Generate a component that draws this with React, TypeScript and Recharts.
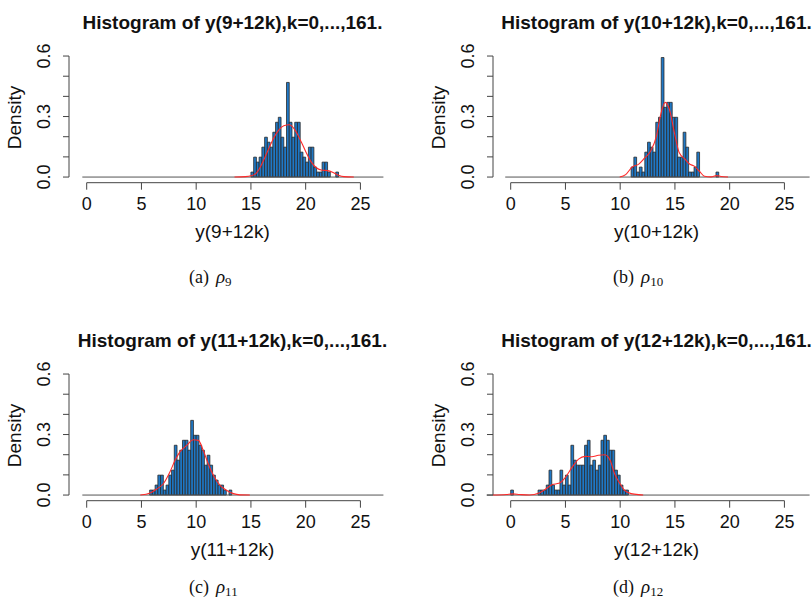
import React from 'react';
import { ComposedChart, Line, XAxis, YAxis, ReferenceArea, ReferenceLine } from 'recharts';

// 162 observations per panel, histogram bins of width 0.25 (density scale)
const SAMPLE_SIZE = 162;
const BIN_WIDTH = 0.25;

const xTicks = [0, 5, 10, 15, 20, 25];
const yTicks = [0, 0.1, 0.2, 0.3, 0.4, 0.5, 0.6];
const yLabelled = [0, 0.3, 0.6];

const titles = [
    'Histogram of y(9+12k),k=0,...,161.',
    'Histogram of y(10+12k),k=0,...,161.',
    'Histogram of y(11+12k),k=0,...,161.',
    'Histogram of y(12+12k),k=0,...,161.',
];
const xLabels = ['y(9+12k)', 'y(10+12k)', 'y(11+12k)', 'y(12+12k)'];
const captionLetters = ['(a)', '(b)', '(c)', '(d)'];
const rhoIndex = ['9', '10', '11', '12'];

// bin counts, first bin starts at binStartX
const binStartA = 15.0;
const countsA = [1, 4, 3, 4, 6, 8, 7, 6, 9, 11, 12, 8, 6, 19, 11, 8, 11, 11, 5, 4, 3, 6, 6, 2, 1, 1, 3, 3, 1, 0, 0, 1];
const binStartB = 11.0;
const countsB = [2, 4, 1, 2, 1, 5, 7, 6, 5, 11, 12, 24, 14, 15, 15, 12, 12, 4, 4, 9, 6, 1, 1, 2, 5, 0, 0, 0, 0, 0, 0, 1];
const binStartC = 5.75;
const countsC = [1, 1, 2, 4, 4, 1, 2, 4, 5, 10, 7, 9, 11, 11, 9, 15, 12, 12, 10, 9, 6, 8, 6, 4, 3, 2, 2, 1, 0, 1];
const binStartD = 0.0;
const countsD = [1, 0, 0, 0, 0, 0, 0, 0, 0, 0, 1, 1, 1, 2, 5, 2, 1, 1, 5, 2, 4, 2, 10, 7, 6, 6, 6, 10, 11, 6, 7, 5, 6, 11, 12, 11, 9, 9, 5, 4, 2, 1, 1];

// kernel density curves: [x, density]
const curveA = [[13.5, 0], [14.5, 0.002], [15, 0.006], [15.5, 0.02], [16, 0.065], [16.5, 0.125], [17, 0.185], [17.5, 0.23], [18, 0.254], [18.5, 0.259], [19, 0.235], [19.5, 0.185], [20, 0.127], [20.5, 0.075], [21, 0.045], [21.5, 0.034], [22, 0.032], [22.5, 0.023], [23, 0.009], [23.5, 0.002], [24.4, 0]];
const curveB = [[9.96, 0], [10.5, 0.012], [11.1, 0.05], [11.7, 0.064], [12.2, 0.092], [12.8, 0.13], [13.3, 0.2], [13.7, 0.31], [14.1, 0.37], [14.5, 0.335], [14.95, 0.22], [15.4, 0.12], [15.9, 0.09], [16.3, 0.066], [16.8, 0.053], [17.25, 0.028], [17.7, 0.004], [18.3, 0.001], [18.8, 0.007], [19.2, 0.003], [19.85, 0]];
const curveC = [[4.9, 0], [5.8, 0.01], [6.4, 0.03], [7.0, 0.056], [7.6, 0.114], [8.07, 0.172], [8.5, 0.213], [9.13, 0.246], [9.74, 0.274], [10.2, 0.271], [10.65, 0.221], [11.1, 0.155], [11.57, 0.098], [12.18, 0.048], [12.8, 0.023], [13.4, 0.007], [14.0, 0.001], [14.9, 0]];
const curveD = [[-1.66, 0], [-0.4, 0.003], [0.2, 0.006], [0.8, 0.003], [1.7, 0], [2.6, 0.01], [3.2, 0.03], [3.8, 0.052], [4.4, 0.058], [5.0, 0.088], [5.6, 0.137], [6.2, 0.178], [6.8, 0.192], [7.4, 0.19], [8.0, 0.197], [8.6, 0.2], [9.1, 0.17], [9.5, 0.104], [10.0, 0.055], [10.4, 0.023], [11.0, 0.007], [11.9, 0.001], [12.1, 0]];

// extent of the grey zero line in each panel
const zeroLineA = [-0.4, 27.1];
const zeroLineB = [-0.5, 27.3];
const zeroLineC = [-0.4, 27.1];
const zeroLineD = [-2.2, 27.3];

const X_DOMAIN: [number, number] = [-1.616, 28.25];
const Y_DOMAIN: [number, number] = [-0.028, 0.62];

const SANS = '"Liberation Sans", Arial, Helvetica, sans-serif';
const SERIF = '"Liberation Serif", "Times New Roman", "DejaVu Serif", serif';
const AXIS = '#444';

const XTick = (props: any) => {
    const { x, y, payload } = props;
    return (
        <text x={x} y={y + 18} textAnchor="middle" fontSize={18} fontFamily={SANS} fill="#111">
            {payload.value}
        </text>
    );
};

const YTick = (props: any) => {
    const { x, y, payload } = props;
    if (!yLabelled.includes(payload.value)) return <g />;
    return (
        <g transform={`translate(${x - 17.3},${y}) rotate(-90)`}>
            <text x={0} y={0} dy="0.36em" textAnchor="middle" fontSize={18} fontFamily={SANS} fill="#111">
                {payload.value.toFixed(1)}
            </text>
        </g>
    );
};

type PanelProps = {
    left: number;
    top: number;
    idx: number;
    binStart: number;
    counts: number[];
    curve: number[][];
    zeroLine: number[];
    captionY: number;
};

function Panel({ left, top, idx, binStart, counts, curve, zeroLine, captionY }: PanelProps) {
    const bins = counts
        .map((c, i) => ({
            x1: binStart + i * BIN_WIDTH,
            x2: binStart + (i + 1) * BIN_WIDTH,
            d: c / (SAMPLE_SIZE * BIN_WIDTH),
        }))
        .filter((b) => b.d > 0);
    const data = curve.map(([x, y]) => ({ x, y }));

    return (
        <div style={{ position: 'absolute', left, top, width: 406, height: 300 }}>
            <ComposedChart
                width={406}
                height={300}
                data={data}
                margin={{ top: 52, right: 10, bottom: 77.3, left: 19 }}
            >
                <XAxis
                    type="number"
                    dataKey="x"
                    domain={X_DOMAIN}
                    allowDataOverflow
                    ticks={xTicks}
                    interval={0}
                    axisLine={false}
                    tickLine={{ stroke: AXIS }}
                    tickSize={7}
                    tickMargin={2}
                    height={40}
                    tick={XTick}
                />
                <YAxis
                    type="number"
                    domain={Y_DOMAIN}
                    allowDataOverflow
                    ticks={yTicks}
                    interval={0}
                    axisLine={false}
                    tickLine={{ stroke: AXIS }}
                    tickSize={6}
                    tickMargin={2}
                    width={50}
                    tick={YTick}
                />
                {bins.map((b, i) => (
                    <ReferenceArea
                        key={i}
                        x1={b.x1}
                        x2={b.x2}
                        y1={0}
                        y2={b.d}
                        fill="#1f78c6"
                        fillOpacity={1}
                        stroke="#2a2a2a"
                        strokeWidth={0.8}
                    />
                ))}
                <ReferenceLine
                    segment={[{ x: zeroLine[0], y: 0 }, { x: zeroLine[1], y: 0 }]}
                    stroke="#555"
                    strokeWidth={1}
                    ifOverflow="visible"
                />
                <ReferenceLine
                    segment={[{ x: xTicks[0], y: Y_DOMAIN[0] }, { x: xTicks[xTicks.length - 1], y: Y_DOMAIN[0] }]}
                    stroke={AXIS}
                    strokeWidth={1}
                    ifOverflow="visible"
                />
                <ReferenceLine
                    segment={[{ x: X_DOMAIN[0], y: 0 }, { x: X_DOMAIN[0], y: 0.6 }]}
                    stroke={AXIS}
                    strokeWidth={1}
                    ifOverflow="visible"
                />
                <Line
                    type="monotone"
                    dataKey="y"
                    stroke="#ff2a2a"
                    strokeWidth={1.1}
                    dot={false}
                    isAnimationActive={false}
                />
            </ComposedChart>
            <svg
                width={406}
                height={300}
                style={{ position: 'absolute', left: 0, top: 0, pointerEvents: 'none', overflow: 'visible' }}
            >
                <text x={232.5} y={29.3} textAnchor="middle" fontSize={19} fontWeight="bold" fontFamily={SANS} fill="#111">
                    {titles[idx]}
                </text>
                <g transform="translate(16,117.5) rotate(-90)">
                    <text x={0} y={0} dy="0.25em" textAnchor="middle" fontSize={19} fontFamily={SANS} fill="#111">
                        Density
                    </text>
                </g>
                <text x={232.5} y={237.7} textAnchor="middle" fontSize={19} fontFamily={SANS} fill="#111">
                    {xLabels[idx]}
                </text>
                <text x={189} y={captionY} fontSize={18} fontFamily={SERIF} fill="#111">
                    <tspan>{captionLetters[idx]}</tspan>
                    <tspan dx={7} fontStyle="italic" fontSize={19}>ρ</tspan>
                    <tspan fontSize={13} dy={3}>{rhoIndex[idx]}</tspan>
                </text>
            </svg>
        </div>
    );
}

export default function App() {
    return (
        <div
            style={{
                position: 'absolute',
                left: 0,
                top: 0,
                width: 812,
                height: 603,
                background: '#fff',
                overflow: 'hidden',
            }}
        >
            <Panel left={0} top={0} idx={0} binStart={binStartA} counts={countsA} curve={curveA} zeroLine={zeroLineA} captionY={282.5} />
            <Panel left={424} top={0} idx={1} binStart={binStartB} counts={countsB} curve={curveB} zeroLine={zeroLineB} captionY={282.5} />
            <Panel left={0} top={318} idx={2} binStart={binStartC} counts={countsC} curve={curveC} zeroLine={zeroLineC} captionY={275} />
            <Panel left={424} top={318} idx={3} binStart={binStartD} counts={countsD} curve={curveD} zeroLine={zeroLineD} captionY={275} />
        </div>
    );
}
